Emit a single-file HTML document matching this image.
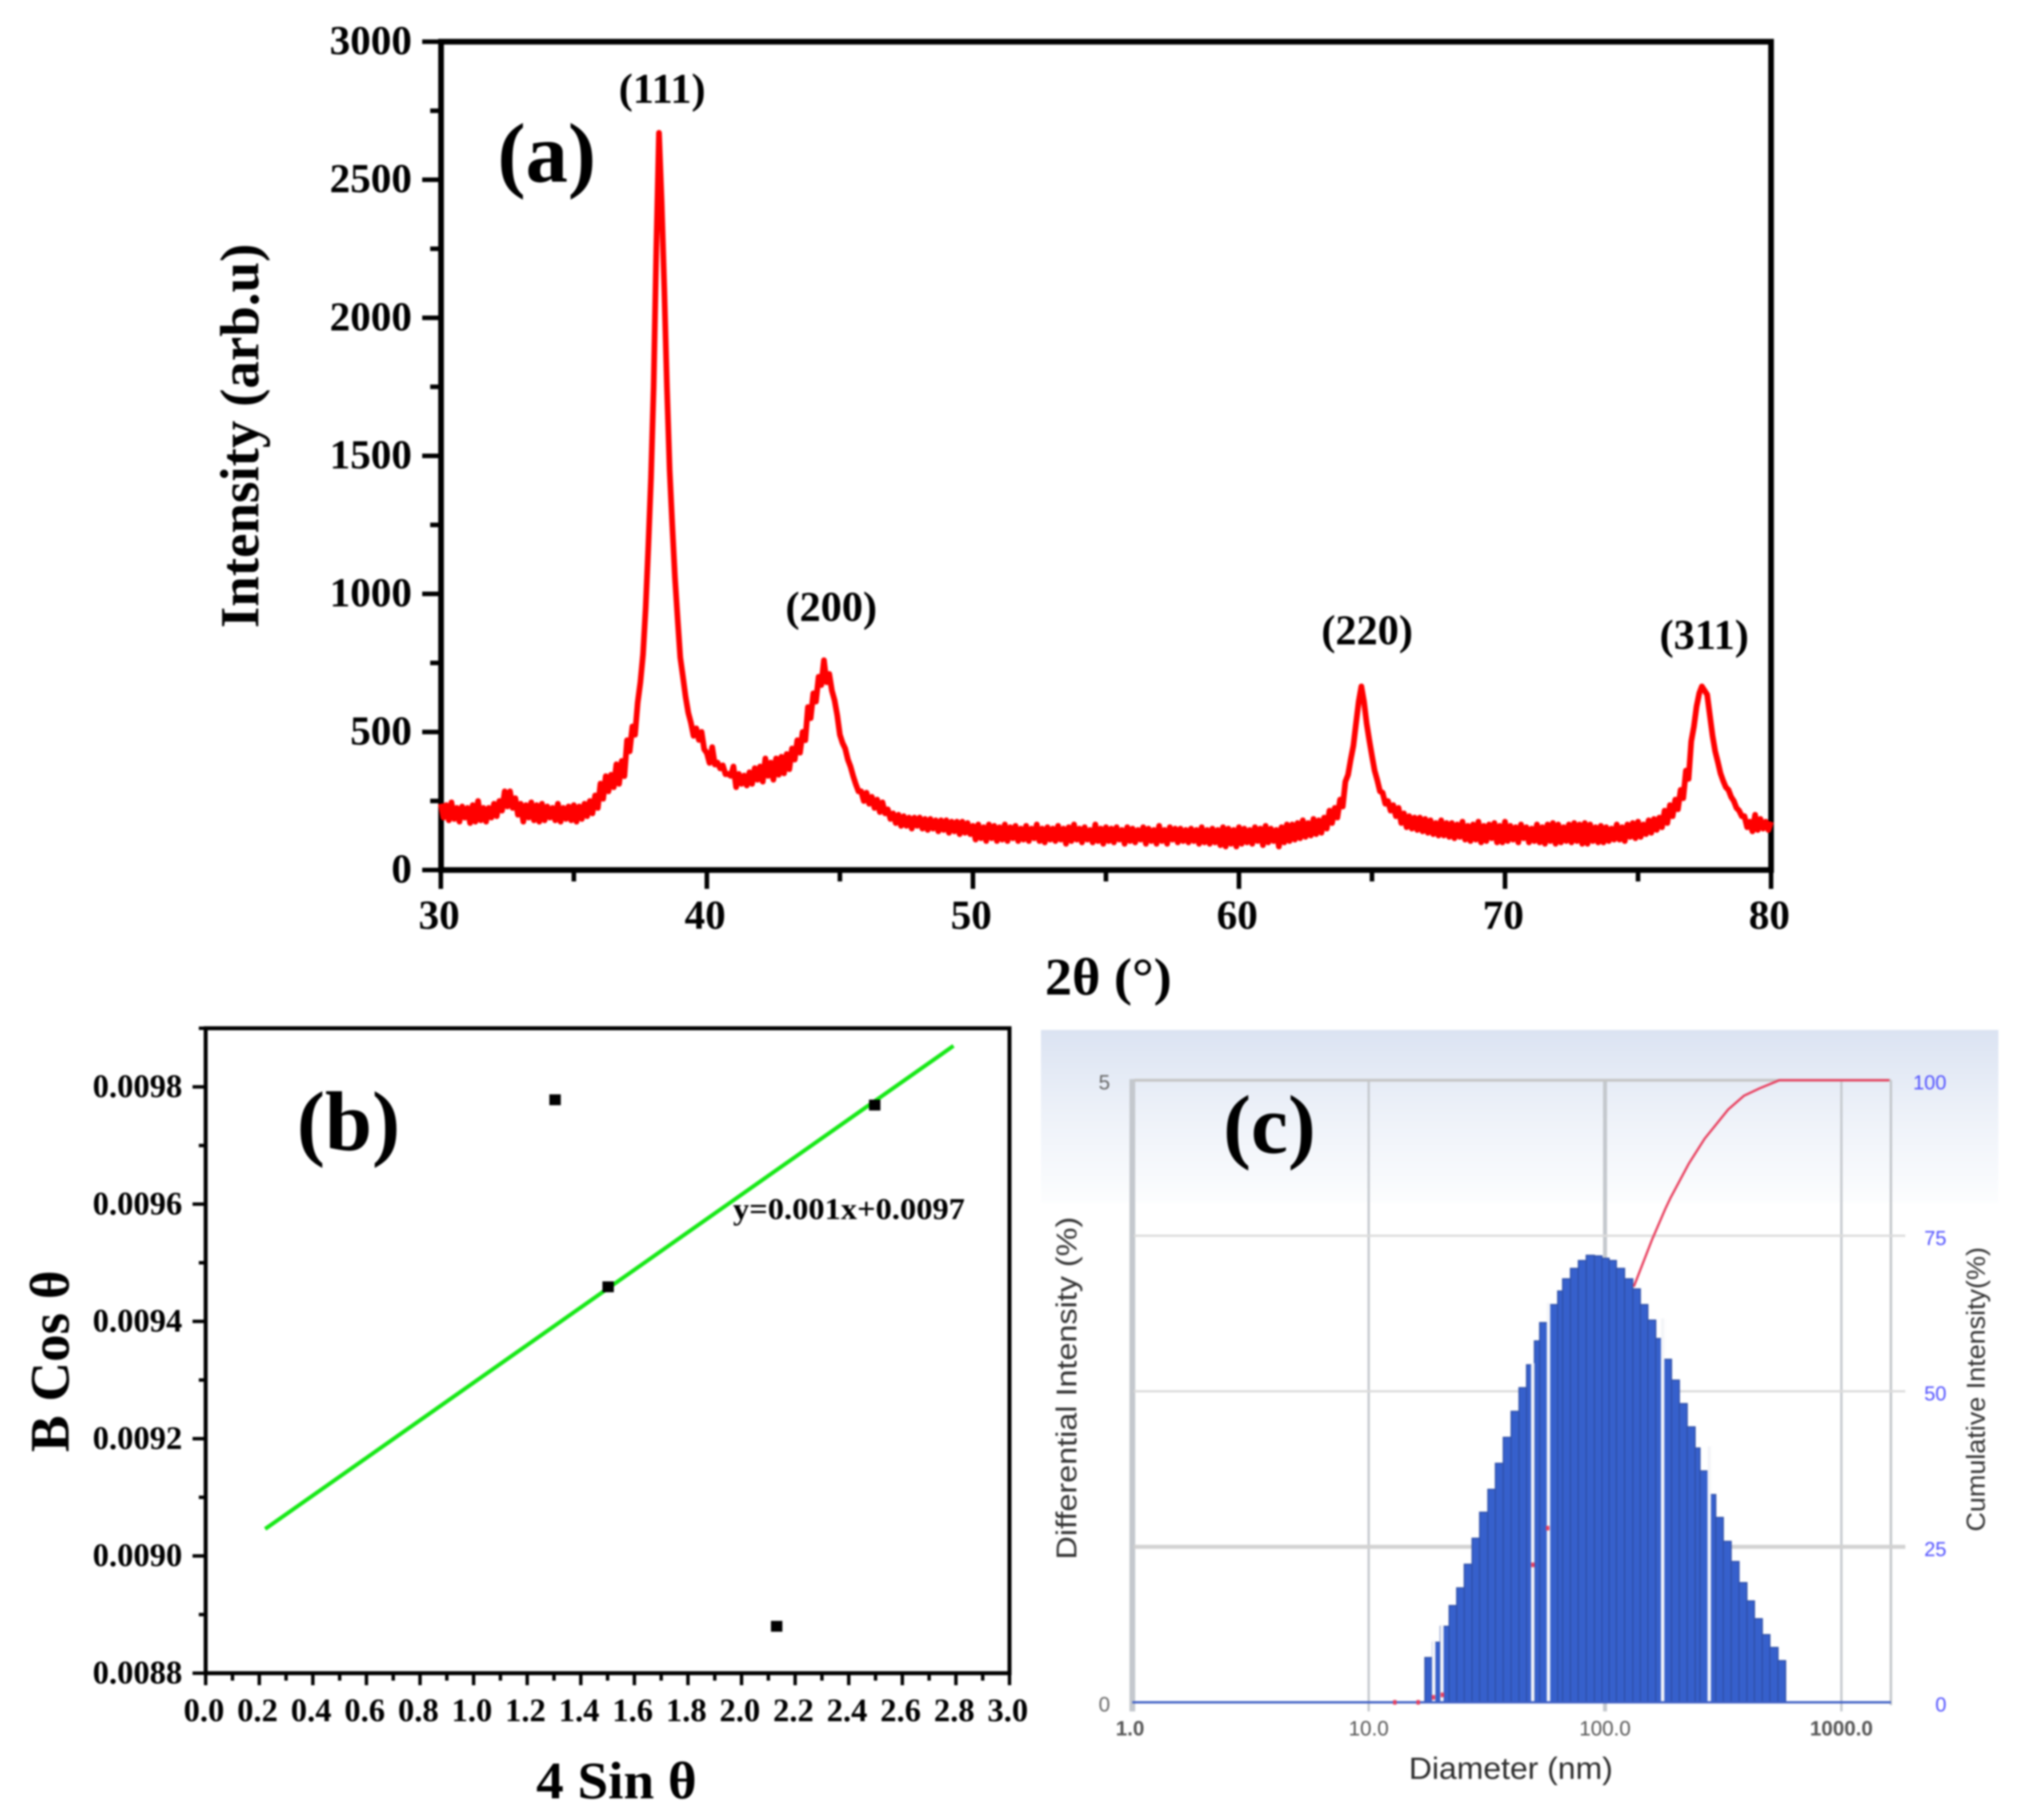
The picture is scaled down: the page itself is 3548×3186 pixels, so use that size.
<!DOCTYPE html>
<html>
<head>
<meta charset="utf-8">
<title>XRD, Williamson-Hall and DLS charts</title>
<style>
html,body{margin:0;padding:0;background:#fff;}
svg{display:block;filter:blur(1.5px);}
text{font-family:"Liberation Serif",serif;font-weight:bold;fill:#000;}
.sans{font-family:"Liberation Sans",sans-serif;font-weight:normal;}
</style>
</head>
<body>
<svg id="figure" xmlns="http://www.w3.org/2000/svg" width="3548" height="3186" viewBox="0 0 3548 3186">
  <defs>
    <linearGradient id="panelCBg" x1="0" y1="0" x2="0" y2="1">
      <stop offset="0" stop-color="#dbe3f2"/>
      <stop offset="0.5" stop-color="#eef2f9"/>
      <stop offset="1" stop-color="#fcfdfe"/>
    </linearGradient>
  </defs>

  <g id="panel-a">
    <rect x="772" y="73" width="2328" height="1450" fill="none" stroke="#000" stroke-width="10"/>
    <g id="a-ticks"></g>
    <polyline id="xrd-line" fill="none" stroke="#ff0000" stroke-width="10" stroke-linejoin="round"/>
    <text x="957" y="318" font-size="148" text-anchor="middle">(a)</text>
    <text x="1159" y="180" font-size="74" text-anchor="middle">(111)</text>
    <text x="1455" y="1087" font-size="74" text-anchor="middle">(200)</text>
    <text x="2393" y="1128" font-size="74" text-anchor="middle">(220)</text>
    <text x="2983" y="1136" font-size="74" text-anchor="middle">(311)</text>
    <text transform="translate(452,763) rotate(-90)" font-size="96" text-anchor="middle" textLength="673" lengthAdjust="spacingAndGlyphs">Intensity (arb.u)</text>
    <text x="1940" y="1741" font-size="92" text-anchor="middle" textLength="222" lengthAdjust="spacingAndGlyphs">2θ (°)</text>
  </g>

  <g id="panel-b">
    <rect x="360" y="1800" width="1407" height="1129" fill="none" stroke="#000" stroke-width="7"/>
    <g id="b-ticks"></g>
    <line id="fit-line" stroke="#16e816" stroke-width="7"/>
    <g id="b-points"></g>
    <text x="610" y="2013" font-size="148" text-anchor="middle">(b)</text>
    <text x="1283" y="2134" font-size="53" textLength="406" lengthAdjust="spacingAndGlyphs">y=0.001x+0.0097</text>
    <text transform="translate(120,2383) rotate(-90)" font-size="97" text-anchor="middle" textLength="318" lengthAdjust="spacingAndGlyphs">B Cos θ</text>
    <text x="1079" y="3148" font-size="92" text-anchor="middle" textLength="281" lengthAdjust="spacingAndGlyphs">4 Sin θ</text>
  </g>

  <g id="panel-c">
    <rect x="1822" y="1803" width="1676" height="302" fill="url(#panelCBg)"/>
    <g id="c-grid"></g>
    <g id="c-bars"></g>
    <line id="c-baseline" stroke="#3f5fc4" stroke-width="4"/>
    <polyline id="cum-line" fill="none" stroke="#e8405f" stroke-width="4"/>
    <g id="c-specks"></g>
    <g id="c-labels"></g>
    <text x="2222" y="2018" font-size="146" text-anchor="middle">(c)</text>
    <text class="sans" x="2466" y="3114" font-size="54" style="fill:#2c2c2c" textLength="357" lengthAdjust="spacingAndGlyphs">Diameter (nm)</text>
    <text class="sans" transform="translate(1884,2430) rotate(-90)" font-size="50" text-anchor="middle" style="fill:#333" textLength="600" lengthAdjust="spacingAndGlyphs">Differential Intensity (%)</text>
    <text class="sans" transform="translate(3474,2432) rotate(-90)" font-size="45" text-anchor="middle" style="fill:#333" textLength="498" lengthAdjust="spacingAndGlyphs">Cumulative Intensity(%)</text>
  </g>
</svg>

<script>
/* ---------- Panel (a): XRD pattern ---------- */
const twoTheta = [
30.0,30.1,30.2,30.3,30.4,30.5,30.6,30.7,30.8,30.9,
31.0,31.1,31.2,31.3,31.4,31.5,31.6,31.7,31.8,31.9,
32.0,32.1,32.2,32.3,32.4,32.5,32.6,32.7,32.8,32.9,
33.0,33.1,33.2,33.3,33.4,33.5,33.6,33.7,33.8,33.9,
34.0,34.1,34.2,34.3,34.4,34.5,34.6,34.7,34.8,34.9,
35.0,35.1,35.2,35.3,35.4,35.5,35.6,35.7,35.8,35.9,
36.0,36.1,36.2,36.3,36.4,36.5,36.6,36.7,36.8,36.9,
37.0,37.1,37.2,37.3,37.4,37.5,37.6,37.7,37.8,37.9,
38.0,38.1,38.2,38.3,38.4,38.5,38.6,38.7,38.8,38.9,
39.0,39.1,39.2,39.3,39.4,39.5,39.6,39.7,39.8,39.9,
40.0,40.1,40.2,40.3,40.4,40.5,40.6,40.7,40.8,40.9,
41.0,41.1,41.2,41.3,41.4,41.5,41.6,41.7,41.8,41.9,
42.0,42.1,42.2,42.3,42.4,42.5,42.6,42.7,42.8,42.9,
43.0,43.1,43.2,43.3,43.4,43.5,43.6,43.7,43.8,43.9,
44.0,44.1,44.2,44.3,44.4,44.5,44.6,44.7,44.8,44.9,
45.0,45.1,45.2,45.3,45.4,45.5,45.6,45.7,45.8,45.9,
46.0,46.1,46.2,46.3,46.4,46.5,46.6,46.7,46.8,46.9,
47.0,47.1,47.2,47.3,47.4,47.5,47.6,47.7,47.8,47.9,
48.0,48.1,48.2,48.3,48.4,48.5,48.6,48.7,48.8,48.9,
49.0,49.1,49.2,49.3,49.4,49.5,49.6,49.7,49.8,49.9,
50.0,50.1,50.2,50.3,50.4,50.5,50.6,50.7,50.8,50.9,
51.0,51.1,51.2,51.3,51.4,51.5,51.6,51.7,51.8,51.9,
52.0,52.1,52.2,52.3,52.4,52.5,52.6,52.7,52.8,52.9,
53.0,53.1,53.2,53.3,53.4,53.5,53.6,53.7,53.8,53.9,
54.0,54.1,54.2,54.3,54.4,54.5,54.6,54.7,54.8,54.9,
55.0,55.1,55.2,55.3,55.4,55.5,55.6,55.7,55.8,55.9,
56.0,56.1,56.2,56.3,56.4,56.5,56.6,56.7,56.8,56.9,
57.0,57.1,57.2,57.3,57.4,57.5,57.6,57.7,57.8,57.9,
58.0,58.1,58.2,58.3,58.4,58.5,58.6,58.7,58.8,58.9,
59.0,59.1,59.2,59.3,59.4,59.5,59.6,59.7,59.8,59.9,
60.0,60.1,60.2,60.3,60.4,60.5,60.6,60.7,60.8,60.9,
61.0,61.1,61.2,61.3,61.4,61.5,61.6,61.7,61.8,61.9,
62.0,62.1,62.2,62.3,62.4,62.5,62.6,62.7,62.8,62.9,
63.0,63.1,63.2,63.3,63.4,63.5,63.6,63.7,63.8,63.9,
64.0,64.1,64.2,64.3,64.4,64.5,64.6,64.7,64.8,64.9,
65.0,65.1,65.2,65.3,65.4,65.5,65.6,65.7,65.8,65.9,
66.0,66.1,66.2,66.3,66.4,66.5,66.6,66.7,66.8,66.9,
67.0,67.1,67.2,67.3,67.4,67.5,67.6,67.7,67.8,67.9,
68.0,68.1,68.2,68.3,68.4,68.5,68.6,68.7,68.8,68.9,
69.0,69.1,69.2,69.3,69.4,69.5,69.6,69.7,69.8,69.9,
70.0,70.1,70.2,70.3,70.4,70.5,70.6,70.7,70.8,70.9,
71.0,71.1,71.2,71.3,71.4,71.5,71.6,71.7,71.8,71.9,
72.0,72.1,72.2,72.3,72.4,72.5,72.6,72.7,72.8,72.9,
73.0,73.1,73.2,73.3,73.4,73.5,73.6,73.7,73.8,73.9,
74.0,74.1,74.2,74.3,74.4,74.5,74.6,74.7,74.8,74.9,
75.0,75.1,75.2,75.3,75.4,75.5,75.6,75.7,75.8,75.9,
76.0,76.1,76.2,76.3,76.4,76.5,76.6,76.7,76.8,76.9,
77.0,77.1,77.2,77.3,77.4,77.5,77.6,77.7,77.8,77.9,
78.0,78.1,78.2,78.3,78.4,78.5,78.6,78.7,78.8,78.9,
79.0,79.1,79.2,79.3,79.4,79.5,79.6,79.7,79.8,79.9,
80.0];
const xrdIntensity = [
240,190,235,180,245,185,225,175,230,190,
225,170,235,175,250,180,225,175,225,190,
240,195,250,215,285,230,285,225,260,200,
240,175,235,190,245,180,235,175,240,180,
230,190,225,180,240,175,225,185,230,180,
235,175,230,185,240,195,250,205,270,225,
313,258,340,285,345,300,383,312,395,340,
470,430,520,490,606,680,780,950,1171,1420,
1750,2250,2670,2420,2100,1750,1450,1250,1060,910,
770,700,628,570,534,486,513,471,500,437,
424,388,445,382,389,368,379,347,348,341,
375,300,348,312,342,306,354,312,369,327,
375,320,404,341,389,327,404,345,410,350,
420,365,440,400,470,425,500,470,590,550,
640,610,700,670,760,680,710,650,615,560,
490,460,440,400,375,340,310,285,285,250,
280,240,265,225,255,210,245,205,220,185,
205,170,200,160,195,160,190,150,190,160,
190,150,185,145,185,150,180,140,180,145,
180,135,175,140,175,130,175,135,170,130,
160,110,165,115,155,105,165,115,160,105,
155,110,165,105,155,115,160,105,150,110,
160,105,150,115,165,105,150,100,155,110,
150,105,160,110,150,95,155,105,165,110,
150,100,155,110,145,100,165,105,150,95,
155,105,150,100,155,110,145,95,155,105,
150,100,145,110,155,95,150,105,145,95,
160,105,145,95,155,110,150,100,150,105,
145,100,150,105,145,95,155,100,145,95,
150,100,145,90,155,85,150,95,145,85,
155,95,150,100,145,95,155,105,150,90,
160,100,150,105,145,85,155,100,165,105,
165,110,170,115,180,120,170,125,185,130,
180,135,190,150,215,170,225,190,255,230,
320,345,400,450,530,610,665,610,530,470,
413,360,325,285,280,240,250,215,235,195,
225,170,205,155,195,150,190,145,190,140,
185,135,180,130,170,125,180,125,170,120,
170,115,165,120,175,110,160,105,165,110,
175,100,160,105,165,115,170,100,160,100,
175,105,160,110,155,100,165,115,155,100,
150,105,165,100,155,95,165,105,170,95,
165,100,155,105,165,100,170,105,165,95,
170,95,165,105,155,100,160,100,155,105,
150,110,165,110,155,105,165,120,170,115,
175,120,165,130,180,135,185,145,190,155,
215,170,235,195,255,220,290,260,360,330,
466,520,592,640,665,650,635,560,486,430,
391,350,323,300,290,265,250,225,215,195,
195,155,175,140,200,145,185,150,175,145,
175];
const aXMajor = [30,40,50,60,70,80];
const aXMinor = [35,45,55,65,75];
const aYMajor = [0,500,1000,1500,2000,2500,3000];
const aYMinor = [250,750,1250,1750,2250,2750];

/* ---------- Panel (b): Williamson-Hall plot ---------- */
const wh4SinTheta = [1.304,1.502,2.131,2.497];
const whBCosTheta = [0.009778,0.009459,0.00888,0.009769];
const fitX = [0.222,2.791];
const fitY = [0.009046,0.00987];
const bXMajor = [0.0,0.2,0.4,0.6,0.8,1.0,1.2,1.4,1.6,1.8,2.0,2.2,2.4,2.6,2.8,3.0];
const bXMinor = [0.1,0.3,0.5,0.7,0.9,1.1,1.3,1.5,1.7,1.9,2.1,2.3,2.5,2.7,2.9];
const bYMajor = [0.0088,0.0090,0.0092,0.0094,0.0096,0.0098];
const bYMinor = [0.0089,0.0091,0.0093,0.0095,0.0097,0.0099];

/* ---------- Panel (c): size distribution ---------- */
const binEdgesNm = [17.29,18.60,20.09,21.90,23.57,25.37,27.38,29.47,31.93,34.36,37.10,40.05,43.25,46.55,50.26,52.89,57.10,63.05,66.15,71.42,77.11,83.25,90.18,97.05,104.1,111.7,121.0,131.1,141.1,151.8,163.9,177.0,191.1,206.3,222.7,240.5,252.3,278.5,294.1,316.5,341.7,369.0,398.4,428.7,462.9,498.4,539.6,580.9];
const binIntensity = [0.360,0.483,0.611,0.778,0.920,1.110,1.319,1.528,1.712,1.921,2.130,2.339,2.529,2.713,2.905,3.052,3.197,3.306,3.404,3.488,3.551,3.593,3.588,3.569,3.551,3.488,3.404,3.323,3.197,3.072,2.924,2.757,2.590,2.401,2.214,2.044,1.860,1.670,1.486,1.294,1.132,0.962,0.815,0.672,0.544,0.441,0.335];
const gapDiameters = [18.84,20.41,49.45,57.65,175.3,275.9];
const cumDiameters = [132.3,158.2,179.8,189.3,226.2,263.9,332.0,386.9,451.0,546.4,1595];
const cumPercent = [66.8,74.4,79.3,81.1,86.6,90.6,95.3,97.5,98.7,100,100];
const speckDiameters = [12.9,16.2,18.8,20.5,49.5,57.2];
const speckPercent = [0,0,0.8,1.2,22.1,28];
const cXTicks = [1,10,100,1000];
const cXLabels = ["1.0","10.0","100.0","1000.0"];
const cLeftTicks = [0,5];
const cRightTicks = [0,25,50,75,100];

/* ---------- axis functions ---------- */
const xA = v => 771.6 + (v - 30) / 50 * 2328.4;
const yA = v => 1523 - v / 3000 * 1450;
const xB = v => 360 + v / 3 * 1407;
const yB = v => 2929 - (v - 0.0088) / 0.0011 * 1129;
const xC = d => 1982 + Math.log10(d) * 413.7;
const yC = v => 2980 - v / 5 * 1089;
const yCum = p => 2980 - p / 100 * 1089;

const NS = "http://www.w3.org/2000/svg";
function make(tag, attrs, parent, txt) {
  const el = document.createElementNS(NS, tag);
  for (const k in attrs) el.setAttribute(k, attrs[k]);
  if (txt !== undefined) el.textContent = txt;
  parent.appendChild(el);
  return el;
}
function makeLine(x1, y1, x2, y2, color, width, parent) {
  return make("line", {x1: x1, y1: y1, x2: x2, y2: y2, stroke: color, "stroke-width": width}, parent);
}

/* ---------- draw panel (a) ---------- */
const aTicks = document.getElementById("a-ticks");
aXMajor.forEach(v => {
  const t = makeLine(xA(v), 1523, xA(v), 1556, "#000", 8, aTicks);
  
  
  const l = make("text", {x: xA(v) - 3, y: 1626, "font-size": 72, "text-anchor": "middle"}, aTicks, String(v));
  
  
});
aXMinor.forEach(v => {
  const t = makeLine(xA(v), 1523, xA(v), 1543, "#000", 8, aTicks);
  
  
});
aYMajor.forEach(v => {
  const t = makeLine(739, yA(v), 772, yA(v), "#000", 8, aTicks);
  
  
  const l = make("text", {x: 721, y: yA(v) + 22, "font-size": 72, "text-anchor": "end"}, aTicks, String(v));
  
  
});
aYMinor.forEach(v => {
  const t = makeLine(753, yA(v), 772, yA(v), "#000", 8, aTicks);
  
  
});
document.getElementById("xrd-line").setAttribute("points",
  twoTheta.map((t, i) => xA(t).toFixed(1) + "," + yA(xrdIntensity[i]).toFixed(1)).join(" "));

/* ---------- draw panel (b) ---------- */
const bTicks = document.getElementById("b-ticks");
bXMajor.forEach(v => {
  const t = makeLine(xB(v), 2929, xB(v), 2950, "#000", 6, bTicks);
  
  
  const l = make("text", {x: xB(v) - 3, y: 3013, "font-size": 57, "text-anchor": "middle"}, bTicks, v.toFixed(1));
  
  
});
bXMinor.forEach(v => {
  const t = makeLine(xB(v), 2929, xB(v), 2942, "#000", 6, bTicks);
  
  
});
bYMajor.forEach(v => {
  const t = makeLine(337, yB(v), 360, yB(v), "#000", 6, bTicks);
  
  
  const l = make("text", {x: 319, y: yB(v) + 18, "font-size": 57, "text-anchor": "end"}, bTicks, v.toFixed(4));
  
  
});
bYMinor.forEach(v => {
  const t = makeLine(348, yB(v), 360, yB(v), "#000", 6, bTicks);
  
  
});
const fit = document.getElementById("fit-line");
fit.setAttribute("x1", xB(fitX[0]));
fit.setAttribute("y1", yB(fitY[0]));
fit.setAttribute("x2", xB(fitX[1]));
fit.setAttribute("y2", yB(fitY[1]));
const bPoints = document.getElementById("b-points");
wh4SinTheta.forEach((x, i) => {
  const p = make("rect", {x: xB(x) - 10, y: yB(whBCosTheta[i]) - 9.5, width: 20, height: 19, fill: "#000"}, bPoints);
  
  
});

/* ---------- draw panel (c) ---------- */
const cGrid = document.getElementById("c-grid");
const cLabels = document.getElementById("c-labels");
const gridWidths = {1: 10, 10: 4, 100: 7, 1000: 4};
cXTicks.forEach((d, i) => {
  const g = makeLine(xC(d), 1889, xC(d), 2996, "#c4c8cd", gridWidths[d], cGrid);
  
  
  const l = make("text", {class: "sans", x: xC(d) - (i === 0 ? 4 : 0), y: 3038, "font-size": 36, "text-anchor": "middle", style: "fill:#555;font-weight:" + (i === 3 || i === 0 ? "bold" : "normal")}, cLabels, cXLabels[i]);
  
  
});
const edgeLine = makeLine(xC(1620), 1891, xC(1620), 2985, "#c0c4c8", 4, cGrid);


cRightTicks.forEach(p => {
  const g = makeLine(1985, yCum(p), p === 100 || p === 0 ? xC(1620) : 3335, yCum(p), p === 25 ? "#d2d2d2" : (p === 100 ? "#c6c6c6" : "#dcdcdc"), p === 25 ? 7 : (p === 100 ? 5 : 4), cGrid);
  
  
  const l = make("text", {class: "sans", x: 3407, y: yCum(p) + 16, "font-size": 35, "text-anchor": "end", style: "fill:#5050ff"}, cLabels, String(p));
  
  
});
cLeftTicks.forEach(v => {
  const l = make("text", {class: "sans", x: 1943, y: yC(v) + 16, "font-size": 36, "text-anchor": "end", style: "fill:#666"}, cLabels, String(v));
  
  
});
const cBars = document.getElementById("c-bars");
binIntensity.forEach((v, i) => {
  const x0 = xC(binEdgesNm[i]);
  const x1 = xC(binEdgesNm[i + 1]);
  const b = make("rect", {x: x0, y: yC(v), width: x1 - x0, height: 2980 - yC(v), fill: "#3660cc", stroke: "#2e4ea6", "stroke-width": 2}, cBars);
  
  
});
gapDiameters.forEach(d => {
  let k = binEdgesNm.findIndex((e, i) => i < binIntensity.length && d >= e && d < binEdgesNm[i + 1]);
  if (k < 0) k = 0;
  const top = yC(Math.max(binIntensity[k], k > 0 ? binIntensity[k - 1] : 0)) - 3;
  const g = make("rect", {x: xC(d) - 3, y: top, width: 6, height: 2980 - top, fill: "#f4f5f8"}, cBars);
  
  
});
const baseline = document.getElementById("c-baseline");
baseline.setAttribute("x1", xC(1));
baseline.setAttribute("y1", yC(0));
baseline.setAttribute("x2", xC(1620));
baseline.setAttribute("y2", yC(0));
document.getElementById("cum-line").setAttribute("points",
  cumDiameters.map((d, i) => xC(d).toFixed(1) + "," + yCum(cumPercent[i]).toFixed(1)).join(" "));
const cSpecks = document.getElementById("c-specks");
speckDiameters.forEach((d, i) => {
  const s = make("rect", {x: xC(d) - 3, y: yCum(speckPercent[i]) - 4, width: 6, height: 8, fill: "#e8405f"}, cSpecks);
  
  
});
</script>
</body>
</html>
